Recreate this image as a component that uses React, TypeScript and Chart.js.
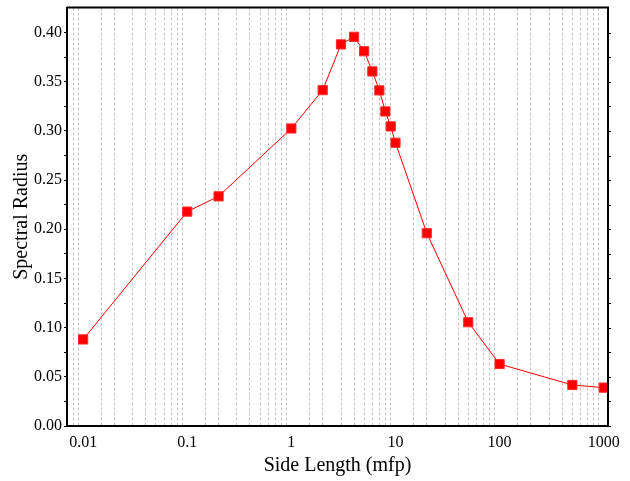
import React, { useEffect, useRef } from "react";
import { Chart, registerables } from "chart.js";

Chart.register(...registerables);

const sideLengths = [0.01, 0.1, 0.2, 1, 2, 3, 4, 5, 6, 7, 8, 9, 10, 20, 50, 100, 500, 1000];
const spectralRadius = [0.088, 0.218, 0.2335, 0.3025, 0.3415, 0.388, 0.3957, 0.381, 0.3605, 0.3412, 0.3198, 0.3046, 0.288, 0.196, 0.1055, 0.063, 0.0417, 0.039];
const yTickValues = [0, 0.025, 0.05, 0.075, 0.1, 0.125, 0.15, 0.175, 0.2, 0.225, 0.25, 0.275, 0.3, 0.325, 0.35, 0.375, 0.4];
const xLabelValues = [0.01, 0.1, 1, 10, 100, 1000];

const FONT = "'Liberation Serif', 'Times New Roman', serif";

const framePlugin = {
  id: "frame",
  afterDraw(chart: any) {
    const { ctx, chartArea } = chart;
    const y = chart.scales.y;
    ctx.save();
    ctx.strokeStyle = "#000";
    ctx.lineWidth = 2;
    ctx.beginPath();
    ctx.moveTo(chartArea.left, chartArea.top);
    ctx.lineTo(chartArea.right, chartArea.top);
    ctx.lineTo(chartArea.right, chartArea.bottom);
    ctx.stroke();
    ctx.lineWidth = 1;
    for (const v of yTickValues) {
      const py = Math.round(y.getPixelForValue(v)) + 0.5;
      ctx.beginPath();
      ctx.moveTo(chartArea.right, py);
      ctx.lineTo(chartArea.right + 3, py);
      ctx.stroke();
    }
    ctx.restore();
  },
};

export default function App() {
  const ref = useRef<HTMLCanvasElement | null>(null);
  useEffect(() => {
    if (!ref.current) return;
    const chart = new Chart(ref.current, {
      type: "line",
      data: {
        datasets: [
          {
            data: sideLengths.map((x, i) => ({ x, y: spectralRadius[i] })),
            borderColor: "#ff0000",
            borderWidth: 1,
            backgroundColor: "#ff0000",
            pointBackgroundColor: "#ff0000",
            pointBorderColor: "#ff2a2a",
            pointBorderWidth: 1,
            pointStyle: "rect",
            pointRadius: 6.5,
            tension: 0,
          },
        ],
      },
      options: {
        responsive: false,
        animation: false,
        devicePixelRatio: 1,
        layout: { padding: { left: 0, right: 22, top: 7, bottom: 0 } },
        plugins: { legend: { display: false }, tooltip: { enabled: false } },
        scales: {
          x: {
            type: "logarithmic",
            min: 0.007,
            max: 1100,
            afterFit: (s: any) => {
              s.height = 55;
              s.paddingLeft = 0;
              s.paddingRight = 0;
              s.paddingTop = 0;
              s.paddingBottom = 0;
            },
            grid: {
              color: (c: any) => {
                const v = c.tick ? c.tick.value : 0;
                const lg = Math.log10(v);
                if (Math.abs(lg - Math.round(lg)) < 1e-6) return "rgba(0,0,0,0)";
                if (v <= 0.0070001 || v >= 1099) return "rgba(0,0,0,0)";
                return "rgba(170,170,170,0.7)";
              },
              lineWidth: 1,
              drawTicks: false,
            },
            border: { display: true, color: "#000", width: 2, dash: [3, 2] },
            ticks: {
              autoSkip: false,
              maxRotation: 0,
              padding: 7,
              color: "#000",
              font: { family: FONT, size: 16 },
              callback: (v: any) => {
                const val = Number(v);
                for (const t of xLabelValues) {
                  if (Math.abs(val - t) / t < 1e-6) return String(t);
                }
                return "";
              },
            },
            title: {
              display: true,
              text: "Side Length (mfp)",
              color: "#000",
              font: { family: FONT, size: 20 },
              padding: { top: 0, bottom: 3 },
            },
          },
          y: {
            type: "linear",
            min: 0,
            max: 0.4255,
            afterFit: (s: any) => {
              s.width = 67;
              s.paddingLeft = 0;
              s.paddingRight = 0;
              s.paddingTop = 0;
              s.paddingBottom = 0;
            },
            afterBuildTicks: (s: any) => {
              s.ticks = yTickValues.map((v) => ({ value: v }));
            },
            grid: {
              drawOnChartArea: false,
              drawTicks: true,
              tickLength: 3,
              tickColor: "#000",
            },
            border: { display: true, color: "#000", width: 2 },
            ticks: {
              padding: 2,
              color: "#000",
              font: { family: FONT, size: 16 },
              callback: (v: any) => {
                const val = Number(v);
                const k = Math.round(val / 0.05);
                if (Math.abs(val - k * 0.05) < 1e-6) return val.toFixed(2);
                return "";
              },
            },
            title: {
              display: true,
              text: "Spectral Radius",
              color: "#000",
              font: { family: FONT, size: 20 },
              padding: { top: 10, bottom: 0 },
            },
          },
        },
      },
      plugins: [framePlugin],
    } as any);
    return () => chart.destroy();
  }, []);
  return (
    <div style={{ position: "absolute", left: 0, top: 0, width: 630, height: 481, background: "#fff" }}>
      <canvas ref={ref} width={630} height={481} style={{ display: "block", width: 630, height: 481 }} />
    </div>
  );
}
